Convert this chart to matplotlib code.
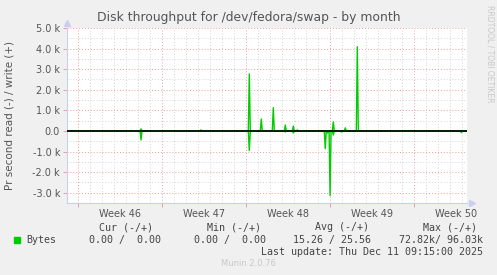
import matplotlib
matplotlib.use("Agg")
import matplotlib.pyplot as plt
import numpy as np

# ---- data (x in days since Mon Nov 10 2025 00:00, values in bytes/s) ----
spike_days = [5.28, 10.28, 14.30, 15.30, 16.30, 17.30, 17.97, 18.30,
              20.63, 20.80, 21.03, 21.30, 21.97, 22.30, 23.30, 31.97]
write_vals = [100, 50, 2770, 580, 1130, 290, 240, 50,
              0, 0, 0, 440, 0, 150, 4090, 0]
read_vals = [440, 0, 950, 0, 0, 50, 100, 0,
             860, 100, 3140, 200, 50, 0, 0, 80]

week_labels = ["Week 46", "Week 47", "Week 48", "Week 49", "Week 50"]
week_label_pos = [3.5, 10.5, 17.5, 24.5, 31.5]
week_starts = [0, 7, 14, 21, 28]
x_range = (-0.89, 32.44)
y_range = (-3500, 5000)
y_ticks = [-3000, -2000, -1000, 0, 1000, 2000, 3000, 4000, 5000]

title = "Disk throughput for /dev/fedora/swap - by month"
ylabel = "Pr second read (-) / write (+)"
legend_header = ["Cur (-/+)", "Min (-/+)", "Avg (-/+)", "Max (-/+)"]
legend_values = ["0.00 /  0.00", "0.00 /  0.00", "15.26 / 25.56", "72.82k/ 96.03k"]
series_name = "Bytes"
last_update = "Last update: Thu Dec 11 09:15:00 2025"
footer = "Munin 2.0.76"
side_text = "RRDTOOL / TOBI OETIKER"

GREEN = "#00CC00"
BG = "#F0F0F0"
W, H = 497, 275


def spike_path(days, vals, sign):
    step = 1.0 / 12.0
    xs = [x_range[0]]
    ys = [0.0]
    for d, v in sorted(zip(days, vals)):
        if v == 0:
            continue
        xs += [d - step, d, d + step]
        ys += [0.0, sign * v, 0.0]
    xs.append(x_range[1])
    ys.append(0.0)
    return xs, ys


fig = plt.figure(figsize=(W / 100, H / 100), dpi=100, facecolor=BG)
ax = fig.add_axes([67 / W, 1 - 203 / H, 400 / W, 175 / H])
ax.set_facecolor("white")
ax.set_xlim(*x_range)
ax.set_ylim(*y_range)

# grid
for d in np.arange(np.ceil(x_range[0]), x_range[1], 1.0):
    if int(d) % 7 != 0:
        ax.axvline(d, color="#d4d4d4", lw=0.7, ls=(0, (1, 2)), zorder=1)
for v in np.arange(-3500, 5001, 500):
    if v % 1000 != 0:
        ax.axhline(v, color="#d4d4d4", lw=0.7, ls=(0, (1, 2)), zorder=1)
for d in week_starts:
    ax.axvline(d, color="#e8a0a0", lw=0.7, ls=(0, (1, 2)), zorder=1.5)
for v in y_ticks:
    ax.axhline(v, color="#e8a0a0", lw=0.7, ls=(0, (1, 2)), zorder=1.5)

# data
xw, yw = spike_path(spike_days, write_vals, 1)
xr, yr = spike_path(spike_days, read_vals, -1)
ax.plot(xw, yw, color=GREEN, lw=1.0, zorder=3)
ax.plot(xr, yr, color=GREEN, lw=1.0, zorder=3)
ax.axhline(0, color="black", lw=1.2, zorder=4)

# axes styling
for s in ["top", "right"]:
    ax.spines[s].set_visible(False)
for s in ["left", "bottom"]:
    ax.spines[s].set_color("#c8cff0")
    ax.spines[s].set_linewidth(0.8)
ax.plot([0], [1.03], marker="^", color="#c8cff0", ms=4, transform=ax.transAxes, clip_on=False)
ax.plot([1.012], [0], marker=">", color="#c8cff0", ms=4, transform=ax.transAxes, clip_on=False)

ax.set_yticks(y_ticks)
ax.set_yticklabels(["0.0" if v == 0 else f"{v / 1000:.1f} k" for v in y_ticks])
ax.set_xticks(week_starts)
ax.set_xticklabels([])
ax.set_xticks(week_label_pos, minor=True)
ax.set_xticklabels(week_labels, minor=True)
ax.tick_params(axis="x", which="major", length=3, color="#e8a0a0", width=0.7)
ax.tick_params(axis="x", which="minor", length=0, labelsize=7, labelcolor="#555555", pad=4)
ax.tick_params(axis="y", which="major", length=3, color="#e8a0a0", width=0.7,
               labelsize=7, labelcolor="#555555", pad=2)

fig.text(249 / W, 1 - 18 / H, title, ha="center", va="center", fontsize=8.9, color="#555555")
fig.text(10 / W, 1 - 115 / H, ylabel, ha="center", va="center", rotation=90,
         fontsize=7.5, color="#555555")

mono = dict(family="DejaVu Sans Mono", fontsize=7.2, color="#444444", va="center")
for txt, x in zip(legend_header, [98.7, 206.7, 315.0, 422.7]):
    fig.text(x / W, 1 - 227 / H, txt, ha="left", **mono)
for txt, x in zip(legend_values, [88.7, 194.3, 293.3, 399.3]):
    fig.text(x / W, 1 - 240 / H, txt, ha="left", **mono)
fig.text(26.3 / W, 1 - 240 / H, series_name, ha="left", **mono)
fig.patches.append(plt.Rectangle((14 / W, 1 - 243 / H), 6 / W, 6 / H,
                                 transform=fig.transFigure, color=GREEN, figure=fig))
fig.text(482.7 / W, 1 - 252 / H, last_update, ha="right", **mono)
fig.text(248 / W, 1 - 264 / H, footer, ha="center", va="center", fontsize=6, color="#c8c8c8")
fig.text(490 / W, 1 - 5 / H, side_text, ha="center", va="top", rotation=270,
         fontsize=5.5, color="#c8c8c8")

fig.savefig("out.png", dpi=100, facecolor=BG)
